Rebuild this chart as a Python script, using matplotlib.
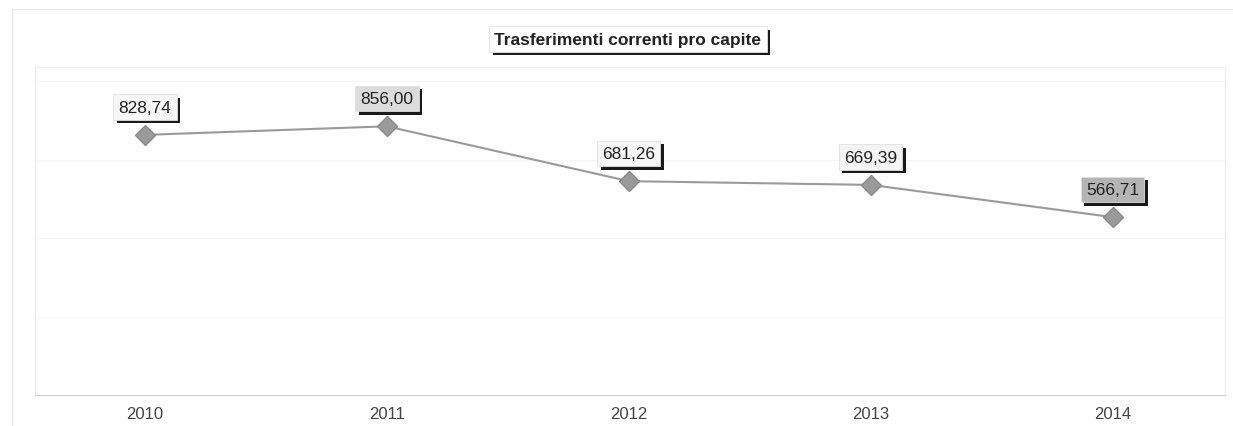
import matplotlib
matplotlib.use("Agg")
import matplotlib.pyplot as plt
import matplotlib.patheffects as pe

plt.rcParams["font.family"] = ["Liberation Sans", "DejaVu Sans"]

anni = ["2010", "2011", "2012", "2013", "2014"]
valori = [828.74, 856.00, 681.26, 669.39, 566.71]
etichette = ["828,74", "856,00", "681,26", "669,39", "566,71"]
sfondi = ["#f7f7f7", "#dcdcdc", "#f7f7f7", "#f4f4f4", "#b4b4b4"]

fig = plt.figure(figsize=(12.33, 4.27), dpi=100)
ax = fig.add_axes([35 / 1233, 1 - 396 / 427, 1190 / 1233, 328 / 427])

x = list(range(len(anni)))
ax.plot(x, valori, color="#9a9a9a", lw=1.5, marker="D", markersize=10,
        markerfacecolor="#9a9a9a", markeredgecolor="#8a8a8a", zorder=3)

# ── etichette con ombra ──
for xi, v, lab, bg in zip(x, valori, etichette, sfondi):
    t = ax.annotate(lab, (xi, v), xytext=(0, 20), textcoords="offset points",
                    ha="center", va="center", fontsize=12.5, color="#222222",
                    bbox=dict(boxstyle="square,pad=0.3", fc=bg, ec="#e0e0e0", lw=0.6),
                    zorder=5)
    t.get_bbox_patch().set_path_effects([
        pe.SimplePatchShadow(offset=(2.5, -2.5), shadow_rgbFace="#1a1a1a", alpha=1.0),
        pe.Normal()])

ax.set_xlim(-0.455, 4.465)
ax.set_ylim(0, 1045)
ax.set_xticks(x)
ax.set_xticklabels(anni, fontsize=12, color="#444444")
ax.set_yticks([250, 500, 750, 1000])
ax.tick_params(axis="y", left=False, labelleft=False)
ax.tick_params(axis="x", length=0, pad=8)
ax.grid(axis="y", color="#f6f6f6", lw=0.8)
for s in ["top", "right", "left"]:
    ax.spines[s].set_color("#ececec")
    ax.spines[s].set_linewidth(0.8)
ax.spines["bottom"].set_color("#d0d0d0")

# ── titolo in riquadro ──
tt = fig.text(628 / 1233, 1 - 40 / 427, "Trasferimenti correnti pro capite",
              ha="center", va="center", fontsize=12.5, fontweight="bold",
              color="#222222",
              bbox=dict(boxstyle="square,pad=0.3", fc="white", ec="#e4e4e4", lw=0.6))
tt.get_bbox_patch().set_path_effects([
    pe.SimplePatchShadow(offset=(2.5, -2.5), shadow_rgbFace="#1a1a1a", alpha=1.0),
    pe.Normal()])

# cornice esterna sbiadita
fig.add_artist(plt.Rectangle((12 / 1233, -0.02), 1.0, 1 - 10 / 427 + 0.02,
                             transform=fig.transFigure, fill=False,
                             ec="#e6e6e6", lw=0.8))

fig.savefig("out.png", dpi=100)
